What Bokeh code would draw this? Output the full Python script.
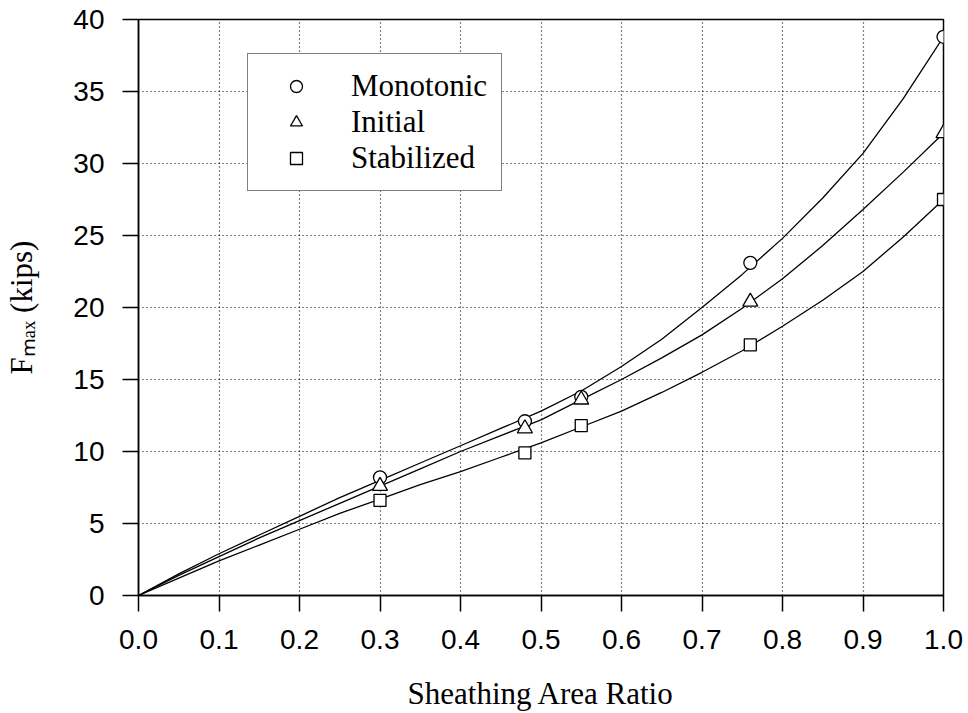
from bokeh.plotting import figure
from bokeh.models import FixedTicker, Legend, LegendItem, CustomJSTickFormatter
from bokeh.embed import file_html
from bokeh.resources import INLINE

# measured points
pt_x = [0.30, 0.48, 0.55, 0.76, 1.00]
mono_pts = [8.2, 12.1, 13.8, 23.1, 38.8]
init_pts = [7.6, 11.6, 13.6, 20.4, 32.1]
stab_pts = [6.6, 9.9, 11.8, 17.4, 27.5]

# fitted curves
curve_x = [0.0, 0.05, 0.10, 0.15, 0.20, 0.25, 0.30, 0.35, 0.40, 0.45, 0.50,
           0.55, 0.60, 0.65, 0.70, 0.75, 0.80, 0.85, 0.90, 0.95, 1.00]
mono_curve = [0.0, 1.5, 2.9, 4.2, 5.5, 6.8, 8.0, 9.2, 10.4, 11.6, 12.8,
              14.2, 15.9, 17.8, 20.0, 22.3, 24.8, 27.6, 30.7, 34.5, 38.8]
init_curve = [0.0, 1.4, 2.7, 4.0, 5.2, 6.4, 7.6, 8.8, 10.0, 11.1, 12.2,
              13.6, 15.0, 16.5, 18.1, 19.95, 22.0, 24.3, 26.8, 29.4, 32.1]
stab_curve = [0.0, 1.2, 2.4, 3.5, 4.6, 5.7, 6.7, 7.7, 8.6, 9.6, 10.6,
              11.7, 12.8, 14.1, 15.5, 17.0, 18.7, 20.5, 22.5, 24.9, 27.5]

x_ticks = [0.0, 0.1, 0.2, 0.3, 0.4, 0.5, 0.6, 0.7, 0.8, 0.9, 1.0]
y_ticks = [0, 5, 10, 15, 20, 25, 30, 35, 40]
series_names = ["Monotonic", "Initial", "Stabilized"]
x_title = "Sheathing Area Ratio"
y_title = "F\u2098\u2090\u2093 (kips)"

p = figure(width=968, height=713, output_backend="svg", toolbar_location=None,
           x_range=(0, 1), y_range=(0, 40),
           min_border_left=138, min_border_right=25, min_border_top=19, min_border_bottom=117)
p.background_fill_color = "white"
p.border_fill_color = "white"
p.outline_line_color = "black"
p.outline_line_width = 1.5

for ax in (p.xaxis[0], p.yaxis[0]):
    ax.major_tick_out = 16
    ax.major_tick_in = 0
    ax.minor_tick_out = 0
    ax.minor_tick_in = 0
    ax.axis_line_color = "black"
    ax.axis_line_width = 1.5
    ax.major_tick_line_color = "black"
    ax.major_tick_line_width = 1.5
    ax.major_label_text_font = "Liberation Sans"
    ax.major_label_text_font_size = "28px"
    ax.major_label_text_color = "black"
    ax.axis_label_text_font = "Liberation Serif"
    ax.axis_label_text_font_style = "normal"
    ax.axis_label_text_font_size = "31px"
    ax.axis_label_text_color = "black"

p.xaxis[0].ticker = FixedTicker(ticks=x_ticks)
p.yaxis[0].ticker = FixedTicker(ticks=y_ticks)
p.xaxis[0].formatter = CustomJSTickFormatter(code="return tick.toFixed(1);")
p.xaxis[0].major_label_standoff = 18
p.yaxis[0].major_label_standoff = 18
p.xaxis[0].axis_label = x_title
p.yaxis[0].axis_label = y_title
p.xaxis[0].axis_label_standoff = 24
p.yaxis[0].axis_label_standoff = 31

for g in (p.xgrid[0], p.ygrid[0]):
    g.grid_line_color = "black"
    g.grid_line_dash = "1 3"
    g.grid_line_width = 1.2

lw = 1.3
p.line(curve_x, mono_curve, line_color="black", line_width=lw)
p.line(curve_x, init_curve, line_color="black", line_width=lw)
p.line(curve_x, stab_curve, line_color="black", line_width=lw)

r1 = p.scatter(pt_x, mono_pts, marker="circle", size=13, fill_color="white", line_color="black", line_width=lw)
r2 = p.scatter(pt_x, init_pts, marker="triangle", size=15, fill_color="white", line_color="black", line_width=lw)
r3 = p.scatter(pt_x, stab_pts, marker="square", size=12, fill_color="white", line_color="black", line_width=lw)

legend = Legend(items=[LegendItem(label=series_names[0], renderers=[r1]),
                       LegendItem(label=series_names[1], renderers=[r2]),
                       LegendItem(label=series_names[2], renderers=[r3])],
                location=(109, 404), orientation="vertical")
legend.label_text_font = "Liberation Serif"
legend.label_text_font_size = "31px"
legend.label_text_color = "black"
legend.glyph_width = 68
legend.glyph_height = 30
legend.label_height = 30
legend.label_standoff = 21
legend.spacing = 0
legend.padding = 14
legend.margin = 0
legend.border_line_color = "black"
legend.border_line_width = 1.5
legend.background_fill_alpha = 1
p.add_layout(legend)

open("out.html", "w").write(file_html(p, INLINE))
